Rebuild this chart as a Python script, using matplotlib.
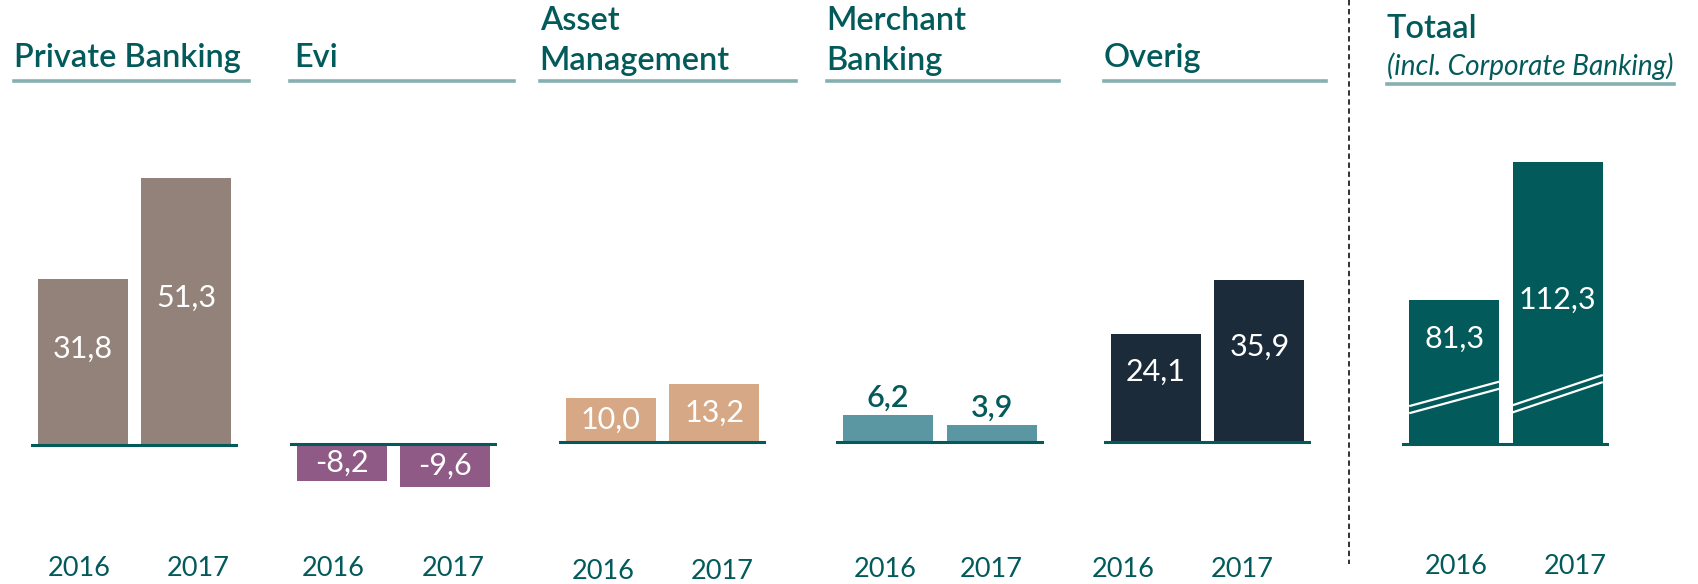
import matplotlib
matplotlib.use("Agg")
import matplotlib.pyplot as plt

# ---------------- data ----------------
segments = ["Private Banking", "Evi", "Asset\nManagement", "Merchant\nBanking", "Overig", "Totaal"]
years = ["2016", "2017"]
private_banking = [31.8, 51.3]
evi = [-8.2, -9.6]
asset_management = [10.0, 13.2]
merchant_banking = [6.2, 3.9]
overig = [24.1, 35.9]
totaal = [81.3, 112.3]
totaal_subtitle = "(incl. Corporate Banking)"
totaal_axis_break = 49.0   # part of the Totaal axis hidden by the break

values = [private_banking, evi, asset_management, merchant_banking, overig, totaal]

# ---------------- style / layout ----------------
W, H = 1699, 584
TEAL = "#035a5a"
UNDER = "#86b0b0"
bar_colors = ["#928279", "#8f5a86", "#d7a886", "#5b97a2", "#1b2b3a", "#035a5a"]
FONT = "Lato"

# per-panel layout (pixels)
centers = [134.3, 393.3, 662.6, 940.0, 1207.6, 1506.0]
baselines = [445.3, 444.2, 442.0, 442.0, 442.0, 443.5]
px_per_unit = [5.22, 4.5, 4.4, 4.3, 4.5, 4.45]
axw = 207.0
ytop_px, ybot_px = 100.0, 520.0
title_x = [14, 294.7, 539.6, 826.7, 1104, 1387]
under_x = [(14, 249), (290, 514), (540, 796), (827, 1059), (1104, 1326), (1387, 1674)]
under_y = [81.3, 81.3, 81.3, 81.3, 81.3, 84.0]
year_x = [(79.4, 198.6), (333, 452.8), (603, 722), (885, 991), (1123, 1242.5), (1456, 1575.5)]
year_y = [569, 569, 571.5, 569.5, 569.5, 566]
label_mode = ["in", "mid", "mid", "above", "in", "in"]
label_in_y = {0: [18.5, 28.2], 4: [15.7, 21.2], 5: [23.5, 32.2]}
LBL = 22

fig = plt.figure(figsize=(W / 100, H / 100), dpi=100)


def fx(x):
    return x / W


def fy(y):
    return 1 - y / H


for i, vals in enumerate(values):
    s = px_per_unit[i]
    b = baselines[i]
    left = centers[i] - axw / 2
    ax = fig.add_axes([fx(left), fy(ybot_px), axw / W, (ybot_px - ytop_px) / H])
    ax.set_xlim(-0.5, 1.5)
    ax.set_ylim(-(ybot_px - b) / s, (b - ytop_px) / s)
    ax.axis("off")
    shown = [v - totaal_axis_break for v in vals] if i == 5 else vals
    xs = [0, 1]
    ax.bar(xs, shown, width=0.87, color=bar_colors[i], zorder=2)
    ax.axhline(0, color=TEAL, lw=2.2, zorder=3)
    for j, (x, v, sv) in enumerate(zip(xs, vals, shown)):
        txt = f"{v:.1f}".replace(".", ",")
        if label_mode[i] == "in":
            ax.text(x, label_in_y[i][j], txt, color="white", ha="center", va="center",
                    fontsize=LBL, family=FONT, zorder=4)
        elif label_mode[i] == "mid":
            ax.text(x, sv / 2, txt, color="white", ha="center", va="center",
                    fontsize=LBL, family=FONT, zorder=4)
        else:
            ax.text(x, sv + 18 / s, txt, color=TEAL, ha="center", va="center",
                    fontsize=LBL, family=FONT, weight="semibold", zorder=4)
    if i == 5:
        # axis break marks (two white slanted lines per bar)
        for x in xs:
            for off in (0.0, 1.6):
                ax.plot([x - 0.435, x + 0.435], [8.4 - off + 0.2 * x, 13.9 - off + 1.5 * x],
                        color="white", lw=1.6, zorder=5, solid_capstyle="butt")
    # year labels
    for xp, yr in zip(year_x[i], years):
        fig.text(fx(xp), fy(year_y[i]), yr, color=TEAL, ha="center", va="center",
                 fontsize=19.5, family=FONT)

# titles
TS = 23.4
for i, name in enumerate(segments):
    lines = name.split("\n")
    if len(lines) == 1 and i != 5:
        fig.text(fx(title_x[i]), fy(67), lines[0], color=TEAL, ha="left", va="baseline",
                 fontsize=TS, family=FONT, weight="semibold")
    elif i != 5:
        fig.text(fx(title_x[i]), fy(30.5), lines[0], color=TEAL, ha="left", va="baseline",
                 fontsize=TS, family=FONT, weight="semibold")
        fig.text(fx(title_x[i]), fy(70.4), lines[1], color=TEAL, ha="left", va="baseline",
                 fontsize=TS, family=FONT, weight="semibold")
    else:
        fig.text(fx(title_x[i]), fy(38), lines[0], color=TEAL, ha="left", va="baseline",
                 fontsize=TS, family=FONT, weight="semibold")
        fig.text(fx(title_x[i]), fy(75.5), totaal_subtitle, color=TEAL, ha="left", va="baseline",
                 fontsize=20.2, family=FONT, style="italic")
    x0, x1 = under_x[i]
    fig.add_artist(plt.Line2D([fx(x0), fx(x1)], [fy(under_y[i])] * 2, color=UNDER, lw=2.6))

# dashed separator
fig.add_artist(plt.Line2D([fx(1349), fx(1349)], [fy(0), fy(564)], color="#222222",
                          lw=1.3, linestyle=(0, (3, 2))))

fig.savefig("out.png", dpi=100)
